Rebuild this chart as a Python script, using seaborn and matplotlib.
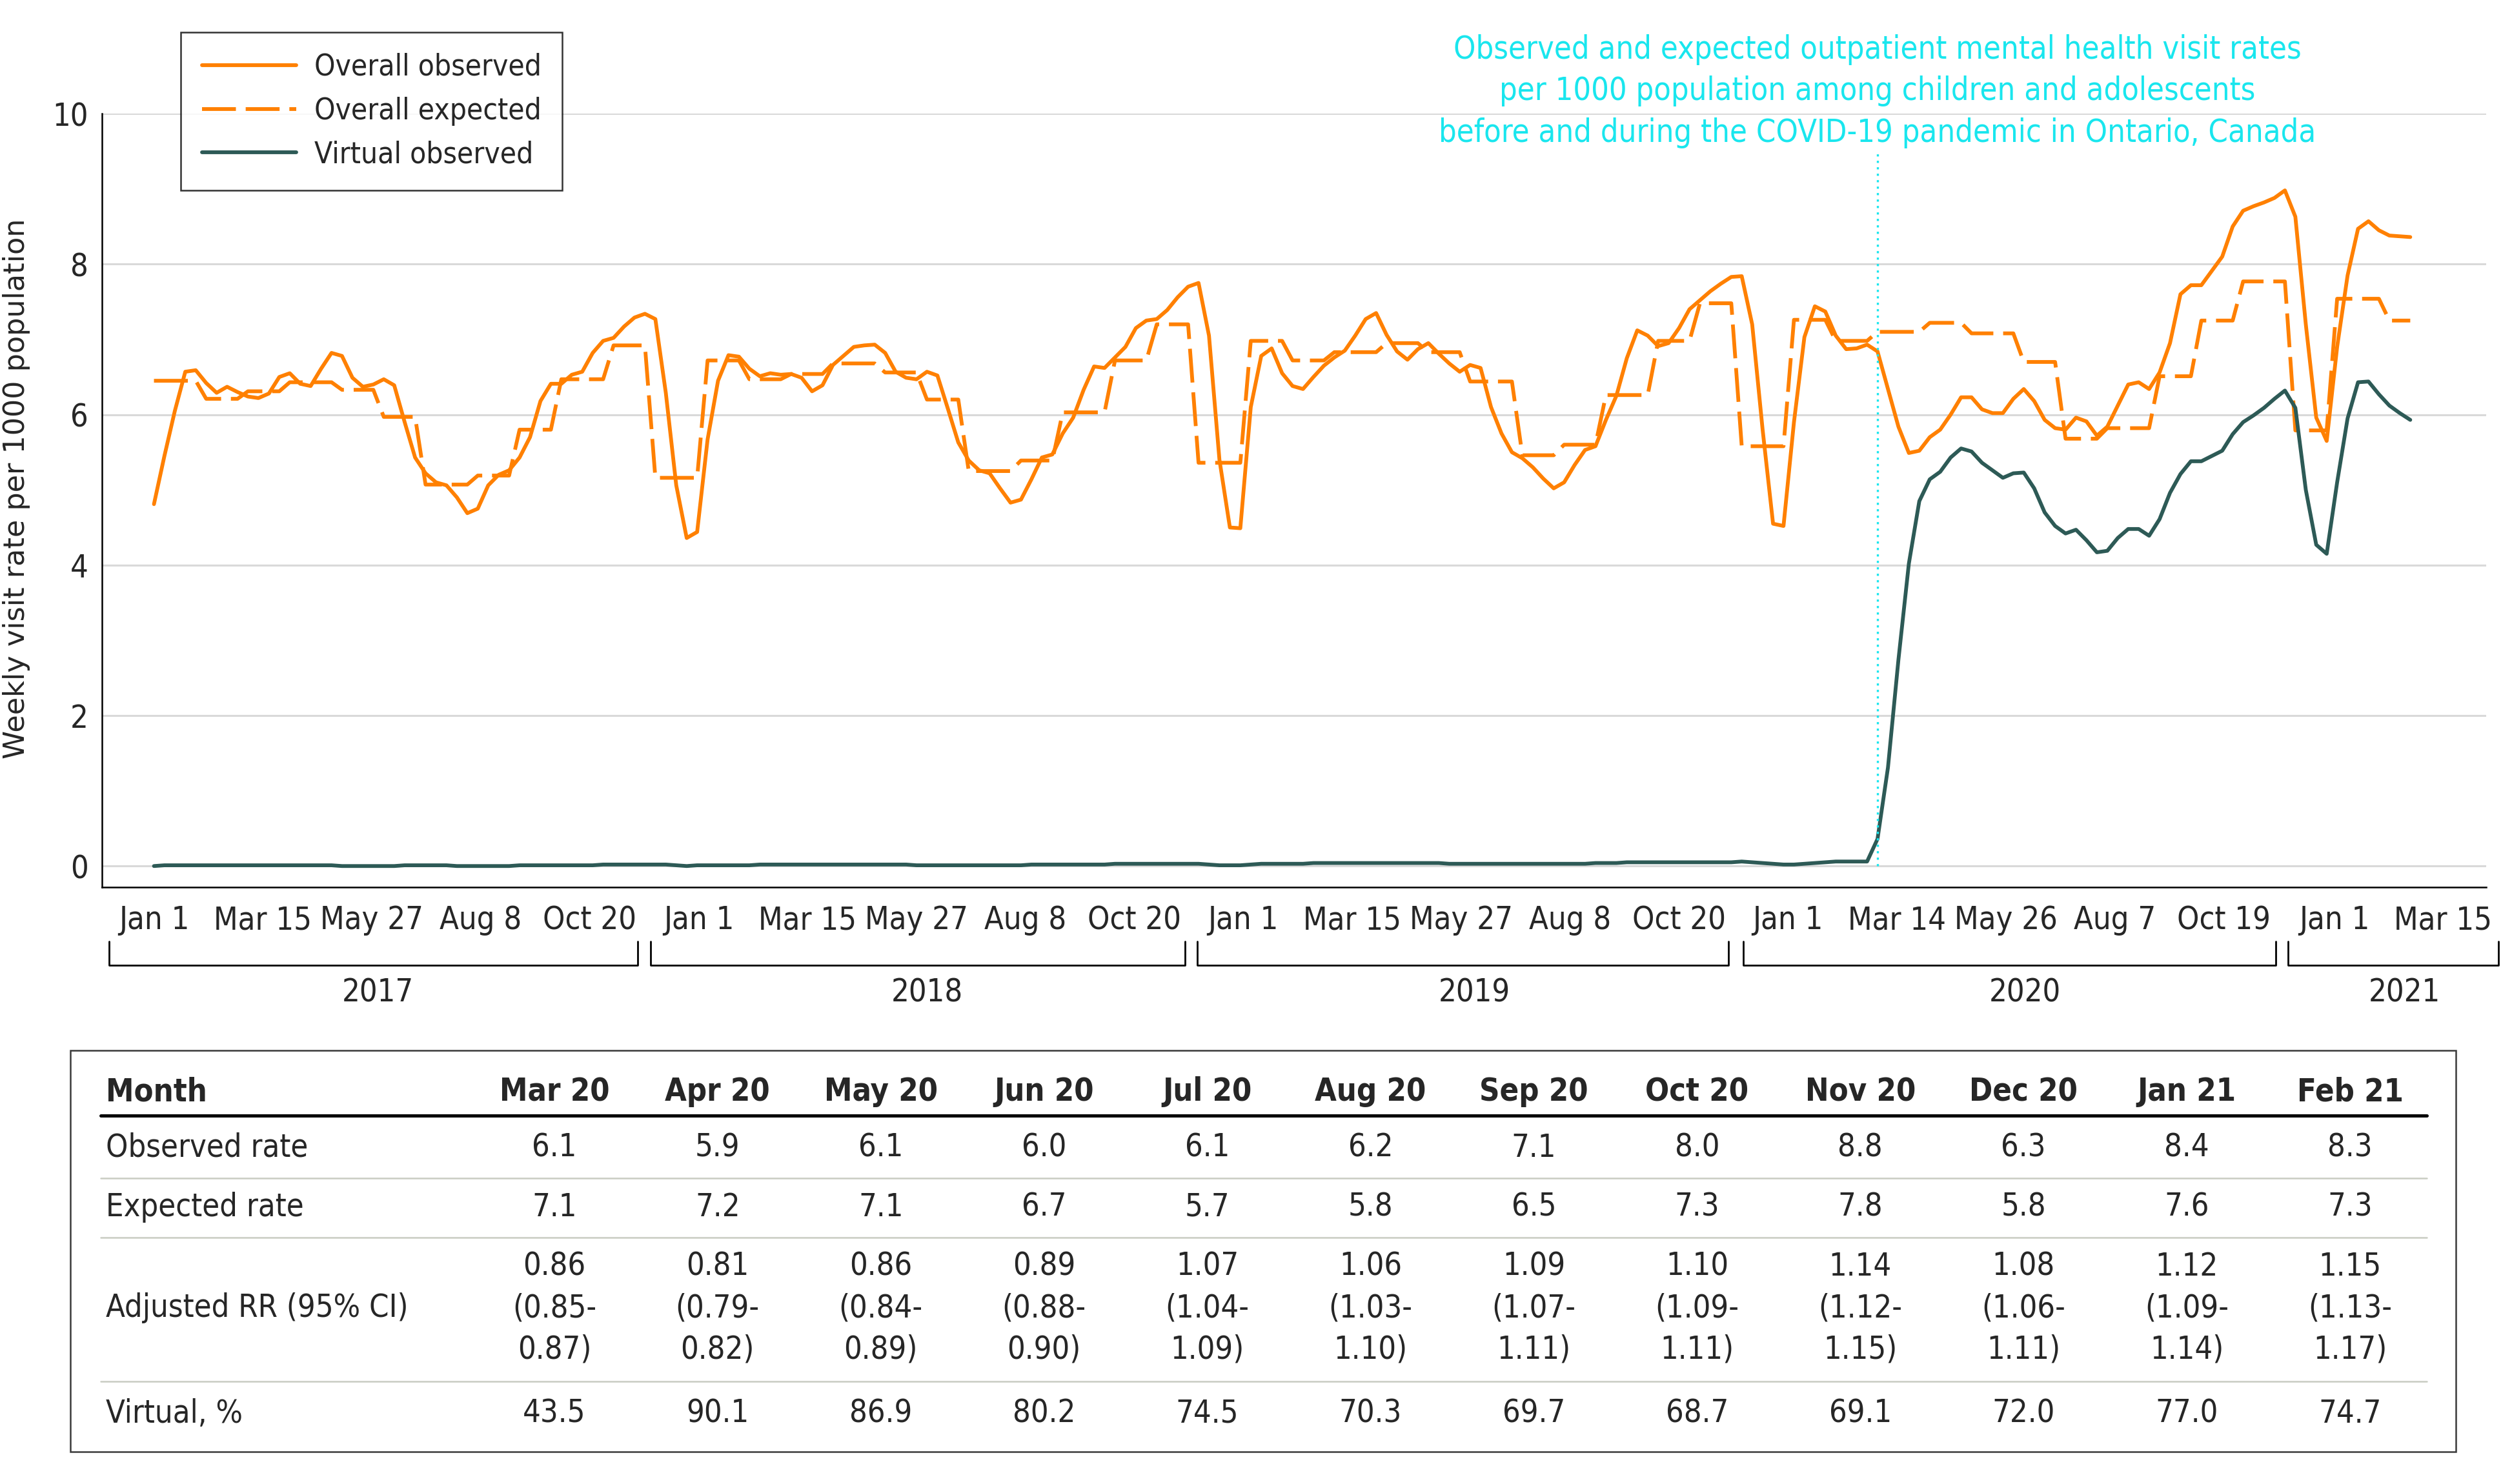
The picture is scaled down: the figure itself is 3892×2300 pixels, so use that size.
import numpy as np
import pandas as pd
import matplotlib
matplotlib.use("Agg")
import matplotlib.pyplot as plt
import matplotlib.transforms as mtransforms
from matplotlib.lines import Line2D
from matplotlib.patches import Rectangle
import seaborn as sns

# Weekly visit rates per 1000, one value per week starting 2017-01-01
observed = [
    4.81, 5.45, 6.05, 6.57, 6.59, 6.42, 6.29, 6.37, 6.30, 6.24,
    6.22, 6.28, 6.50, 6.55, 6.41, 6.38, 6.61, 6.82, 6.78, 6.49,
    6.37, 6.40, 6.47, 6.39, 5.90, 5.43, 5.22, 5.10, 5.06, 4.90,
    4.69, 4.75, 5.06, 5.20, 5.26, 5.43, 5.70, 6.18, 6.41, 6.41,
    6.53, 6.57, 6.82, 6.98, 7.02, 7.17, 7.29, 7.34, 7.27, 6.29,
    5.06, 4.36, 4.44, 5.67, 6.45, 6.79, 6.77, 6.61, 6.51, 6.55,
    6.53, 6.54, 6.49, 6.31, 6.39, 6.66, 6.78, 6.90, 6.92, 6.93,
    6.82, 6.57, 6.49, 6.47, 6.57, 6.52, 6.08, 5.63, 5.39, 5.26,
    5.22, 5.02, 4.83, 4.87, 5.14, 5.43, 5.47, 5.75, 5.96, 6.33,
    6.64, 6.62, 6.76, 6.90, 7.15, 7.25, 7.27, 7.39, 7.56, 7.70,
    7.75, 7.05, 5.40, 4.50, 4.49, 6.10, 6.78, 6.88, 6.55, 6.38,
    6.34, 6.50, 6.65, 6.76, 6.85, 7.05, 7.27, 7.35, 7.06, 6.84,
    6.73, 6.87, 6.95, 6.81, 6.68, 6.57, 6.66, 6.62, 6.10, 5.75,
    5.50, 5.42, 5.30, 5.15, 5.02, 5.10, 5.33, 5.53, 5.58, 5.93,
    6.25, 6.75, 7.12, 7.05, 6.91, 6.95, 7.15, 7.40, 7.52, 7.64,
    7.74, 7.83, 7.84, 7.20, 5.80, 4.55, 4.52, 5.90, 7.03, 7.44,
    7.37, 7.05, 6.87, 6.88, 6.93, 6.84, 6.34, 5.84, 5.49, 5.52,
    5.70, 5.80, 6.00, 6.23, 6.23, 6.07, 6.02, 6.02, 6.21, 6.34,
    6.18, 5.93, 5.82, 5.80, 5.96, 5.91, 5.72, 5.84, 6.12, 6.40,
    6.43, 6.34, 6.56, 6.95, 7.60, 7.72, 7.72, 7.91, 8.10, 8.50,
    8.71, 8.77, 8.82, 8.88, 8.98, 8.63, 7.20, 5.96, 5.65, 6.90,
    7.85, 8.47, 8.57, 8.45, 8.38, 8.37, 8.36,
]

virtual = [
    0.00, 0.01, 0.01, 0.01, 0.01, 0.01, 0.01, 0.01, 0.01, 0.01,
    0.01, 0.01, 0.01, 0.01, 0.01, 0.01, 0.01, 0.01, 0.00, 0.00,
    0.00, 0.00, 0.00, 0.00, 0.01, 0.01, 0.01, 0.01, 0.01, 0.00,
    0.00, 0.00, 0.00, 0.00, 0.00, 0.01, 0.01, 0.01, 0.01, 0.01,
    0.01, 0.01, 0.01, 0.02, 0.02, 0.02, 0.02, 0.02, 0.02, 0.02,
    0.01, 0.00, 0.01, 0.01, 0.01, 0.01, 0.01, 0.01, 0.02, 0.02,
    0.02, 0.02, 0.02, 0.02, 0.02, 0.02, 0.02, 0.02, 0.02, 0.02,
    0.02, 0.02, 0.02, 0.01, 0.01, 0.01, 0.01, 0.01, 0.01, 0.01,
    0.01, 0.01, 0.01, 0.01, 0.02, 0.02, 0.02, 0.02, 0.02, 0.02,
    0.02, 0.02, 0.03, 0.03, 0.03, 0.03, 0.03, 0.03, 0.03, 0.03,
    0.03, 0.02, 0.01, 0.01, 0.01, 0.02, 0.03, 0.03, 0.03, 0.03,
    0.03, 0.04, 0.04, 0.04, 0.04, 0.04, 0.04, 0.04, 0.04, 0.04,
    0.04, 0.04, 0.04, 0.04, 0.03, 0.03, 0.03, 0.03, 0.03, 0.03,
    0.03, 0.03, 0.03, 0.03, 0.03, 0.03, 0.03, 0.03, 0.04, 0.04,
    0.04, 0.05, 0.05, 0.05, 0.05, 0.05, 0.05, 0.05, 0.05, 0.05,
    0.05, 0.05, 0.06, 0.05, 0.04, 0.03, 0.02, 0.02, 0.03, 0.04,
    0.05, 0.06, 0.06, 0.06, 0.06, 0.36, 1.31, 2.74, 4.02, 4.85,
    5.14, 5.24, 5.43, 5.55, 5.51, 5.36, 5.26, 5.16, 5.22, 5.23,
    5.02, 4.70, 4.52, 4.42, 4.47, 4.33, 4.17, 4.19, 4.36, 4.48,
    4.48, 4.39, 4.61, 4.96, 5.21, 5.38, 5.38, 5.45, 5.52, 5.74,
    5.90, 5.99, 6.09, 6.21, 6.32, 6.09, 5.00, 4.27, 4.15, 5.10,
    5.95, 6.43, 6.44, 6.27, 6.12, 6.02, 5.93,
]

# Expected rate, one value per month, Jan 2017 - Feb 2021
expected_monthly = [
    6.45, 6.21, 6.31, 6.43, 6.33, 5.97, 5.07, 5.19, 5.80, 6.47, 6.92, 5.16,
    6.72, 6.47, 6.54, 6.68, 6.56, 6.20, 5.25, 5.39, 6.03, 6.72, 7.20, 5.36,
    6.98, 6.72, 6.83, 6.95, 6.83, 6.44, 5.46, 5.60, 6.26, 6.98, 7.48, 5.58,
    7.26, 6.98, 7.10, 7.22, 7.08, 6.70, 5.68, 5.82, 6.51, 7.25, 7.77, 5.79,
    7.54, 7.25,
]

series_names = ["Overall observed", "Overall expected", "Virtual observed"]

tick_dates = [
    "2017-01-01", "2017-03-15", "2017-05-27", "2017-08-08", "2017-10-20",
    "2018-01-01", "2018-03-15", "2018-05-27", "2018-08-08", "2018-10-20",
    "2019-01-01", "2019-03-15", "2019-05-27", "2019-08-08", "2019-10-20",
    "2020-01-01", "2020-03-14", "2020-05-26", "2020-08-07", "2020-10-19",
    "2021-01-01", "2021-03-15",
]
years = ["2017", "2018", "2019", "2020", "2021"]
pandemic_start = "2020-03-01"

# Table
months = ["Mar 20", "Apr 20", "May 20", "Jun 20", "Jul 20", "Aug 20",
          "Sep 20", "Oct 20", "Nov 20", "Dec 20", "Jan 21", "Feb 21"]
observed_rate = [6.1, 5.9, 6.1, 6.0, 6.1, 6.2, 7.1, 8.0, 8.8, 6.3, 8.4, 8.3]
expected_rate = [7.1, 7.2, 7.1, 6.7, 5.7, 5.8, 6.5, 7.3, 7.8, 5.8, 7.6, 7.3]
rr = [0.86, 0.81, 0.86, 0.89, 1.07, 1.06, 1.09, 1.10, 1.14, 1.08, 1.12, 1.15]
rr_low = [0.85, 0.79, 0.84, 0.88, 1.04, 1.03, 1.07, 1.09, 1.12, 1.06, 1.09, 1.13]
rr_high = [0.87, 0.82, 0.89, 0.90, 1.09, 1.10, 1.11, 1.11, 1.15, 1.11, 1.14, 1.17]
virtual_pct = [43.5, 90.1, 86.9, 80.2, 74.5, 70.3, 69.7, 68.7, 69.1, 72.0, 77.0, 74.7]

ORANGE = "#FF8000"
TEAL = "#2D5A56"
CYAN = "#19E6EE"
FS = 17.5

sns.set_style("white")
plt.rcParams["font.family"] = ["DejaVu Sans Condensed", "DejaVu Sans"]
plt.rcParams["font.stretch"] = "condensed"

# Build long table for seaborn
weeks = pd.date_range("2017-01-01", periods=len(observed), freq="7D")
month_idx = (weeks.year - 2017) * 12 + weeks.month - 1
expected = [expected_monthly[i] for i in month_idx]
df = pd.concat([
    pd.DataFrame({"date": weeks, "rate": observed, "series": series_names[0]}),
    pd.DataFrame({"date": weeks, "rate": expected, "series": series_names[1]}),
    pd.DataFrame({"date": weeks, "rate": virtual, "series": series_names[2]}),
], ignore_index=True)

fig = plt.figure(figsize=(19.46, 11.5), dpi=200)
ax = fig.add_axes([63.5 / 1568, 1 - 554 / 927, (1552 - 63.5) / 1568, 483 / 927])

palette = {series_names[0]: ORANGE, series_names[1]: ORANGE, series_names[2]: TEAL}
dashes = {series_names[0]: "", series_names[1]: (9, 2.6), series_names[2]: ""}
sns.lineplot(data=df, x="date", y="rate", hue="series", style="series",
             hue_order=series_names, style_order=series_names,
             palette=palette, dashes=dashes, linewidth=2.1,
             legend=False, sort=False, ax=ax)

ax.set_ylim(-0.277, 10)
ax.set_xlim(pd.Timestamp("2016-11-27"), pd.Timestamp("2021-04-13"))
ax.set_yticks([0, 2, 4, 6, 8, 10])
ax.set_yticklabels(["0", "2", "4", "6", "8", "10"])
ticks = pd.to_datetime(tick_dates)
ax.set_xticks(ticks)
ax.set_xticklabels([f"{t:%b} {t.day}" for t in ticks])
ax.tick_params(axis="both", labelsize=FS, width=0.9, color="black")
ax.tick_params(axis="x", length=6, pad=4)
ax.tick_params(axis="y", length=4.5, pad=3)
ax.grid(axis="y", color="#D9D9D9", lw=1.1)
ax.set_axisbelow(True)
for side in ["top", "right"]:
    ax.spines[side].set_visible(False)
for side in ["left", "bottom"]:
    ax.spines[side].set_linewidth(0.9)
    ax.spines[side].set_color("black")
ax.set_xlabel("")
ax.set_ylabel("Weekly visit rate per 1000 population", fontsize=16,
              family="DejaVu Sans", stretch="normal")
ax.yaxis.set_label_coords(-0.030, 0.515)

# Pandemic marker and caption
ax.vlines(pd.Timestamp(pandemic_start), 0, 9.5, colors=CYAN,
          linestyles=(0, (1, 2)), lw=1.2)
trans = mtransforms.blended_transform_factory(ax.transData, ax.transAxes)
caption = ["Observed and expected outpatient mental health visit rates",
           "per 1000 population among children and adolescents",
           "before and during the COVID-19 pandemic in Ontario, Canada"]
for line, yy in zip(caption, [1.083, 1.029, 0.975]):
    ax.text(pd.Timestamp(pandemic_start), yy, line, transform=trans,
            ha="center", va="center", color=CYAN, fontsize=FS, clip_on=False)

# Year brackets under the date axis
bracket_spans = [("2016-12-02", "2017-11-21"), ("2017-11-30", "2018-11-23"),
                 ("2018-12-01", "2019-11-22"), ("2019-12-02", "2020-11-23"),
                 ("2020-12-01", "2021-04-21")]
label_pos = ["2017-05-31", "2018-06-03", "2019-06-05", "2020-06-08", "2021-02-17"]
for yr, (a, b), lp in zip(years, bracket_spans, label_pos):
    a, b = pd.Timestamp(a), pd.Timestamp(b)
    ax.plot([a, a, b, b], [-0.0704, -0.101, -0.101, -0.0704], transform=trans,
            color="black", lw=1.0, clip_on=False)
    ax.text(pd.Timestamp(lp), -0.137, yr, transform=trans, ha="center",
            va="center", fontsize=FS, clip_on=False)

# Legend
handles = [Line2D([], [], color=ORANGE, lw=2.1),
           Line2D([], [], color=ORANGE, lw=2.1, dashes=(9, 2.6)),
           Line2D([], [], color=TEAL, lw=2.1)]
leg = fig.legend(handles, series_names, loc="upper left",
                 bbox_to_anchor=(113 / 1568, 1 - 20 / 927), fontsize=16.5,
                 frameon=True, fancybox=False, handlelength=3.2,
                 handletextpad=0.6, labelspacing=0.5, borderpad=0.7,
                 borderaxespad=0)
leg.get_frame().set_edgecolor("black")
leg.get_frame().set_linewidth(0.9)

# Table drawn in figure pixel space of the reference layout
tab = fig.add_axes([0, 0, 1, 1], zorder=-1)
tab.set_xlim(0, 1568)
tab.set_ylim(927, 0)
tab.axis("off")
tab.add_patch(Rectangle((44, 656), 1489, 251, fill=False, ec="#3A3A3A", lw=0.9))
TFS = 17.5
col_x = 346 + 101.9 * np.arange(len(months))
tab.text(66, 682, "Month", fontsize=TFS, weight="bold", va="center", ha="left")
for x, m in zip(col_x, months):
    tab.text(x, 682, m, fontsize=TFS, weight="bold", va="center", ha="center")
tab.plot([63, 1515], [697, 697], color="black", lw=1.8)
for yy in [736, 773, 863]:
    tab.plot([63, 1515], [yy, yy], color="#C9CCC2", lw=0.9)

row_labels = [("Observed rate", 717), ("Expected rate", 754),
              ("Adjusted RR (95% CI)", 817), ("Virtual, %", 883)]
for lab, yy in row_labels:
    tab.text(66, yy, lab, fontsize=TFS, va="center", ha="left")
for i, x in enumerate(col_x):
    tab.text(x, 717, f"{observed_rate[i]:.1f}", fontsize=TFS, va="center", ha="center")
    tab.text(x, 754, f"{expected_rate[i]:.1f}", fontsize=TFS, va="center", ha="center")
    tab.text(x, 791, f"{rr[i]:.2f}", fontsize=TFS, va="center", ha="center")
    tab.text(x, 817, f"({rr_low[i]:.2f}-", fontsize=TFS, va="center", ha="center")
    tab.text(x, 843, f"{rr_high[i]:.2f})", fontsize=TFS, va="center", ha="center")
    tab.text(x, 883, f"{virtual_pct[i]:.1f}", fontsize=TFS, va="center", ha="center")

fig.savefig("out.png", dpi=200)
